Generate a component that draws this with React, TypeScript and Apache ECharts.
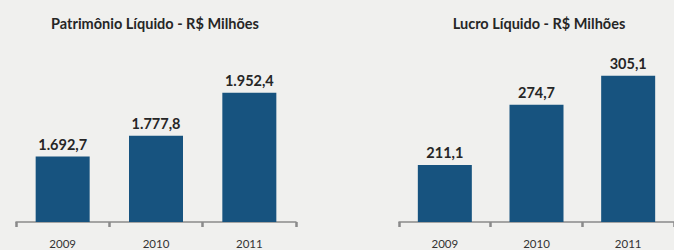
import React, { useEffect, useRef } from "react";
import * as echarts from "echarts";

const years = ["2009", "2010", "2011"];
const patrimonio = [1692.7, 1777.8, 1952.4];
const lucro = [211.1, 274.7, 305.1];
const titles = ["Patrimônio Líquido - R$ Milhões", "Lucro Líquido - R$ Milhões"];

const fmt = (v: number) => {
  const [i, d] = v.toFixed(1).split(".");
  const ii = i.replace(/\B(?=(\d{3})+(?!\d))/g, ".");
  return `${ii},${d}`;
};

const BAR = "#17537f";
const AXIS = "#8a8a8a";
const FONT = "Lato, 'Open Sans', sans-serif";

export default function App() {
  const ref = useRef<HTMLDivElement>(null);
  useEffect(() => {
    document.body.style.margin = "0";
    const chart = echarts.init(ref.current!, null, { renderer: "svg" });
    const xAxisBase = (gridIndex: number) => ({
      type: "category" as const,
      gridIndex,
      data: years,
      axisLine: { show: true, lineStyle: { color: AXIS, width: 1.5 } },
      axisTick: { show: true, alignWithLabel: false, length: 5, lineStyle: { color: AXIS, width: 2.5 } },
      axisLabel: { color: "#333333", fontSize: 11.5, fontFamily: FONT, margin: 15 },
    });
    const yAxisBase = (gridIndex: number, min: number, max: number) => ({
      type: "value" as const,
      gridIndex,
      min,
      max,
      show: false,
      splitLine: { show: false },
    });
    const label = {
      show: true,
      position: "top" as const,
      distance: 5,
      color: "#262626",
      fontSize: 14.5,
      fontWeight: "bold" as const,
      fontFamily: FONT,
      formatter: (p: any) => fmt(p.value),
    };
    chart.setOption({
      animation: false,
      backgroundColor: "#f0f0ee",
      grid: [
        { left: 16, width: 280, top: 20, bottom: 28 },
        { left: 399, width: 277, top: 20, bottom: 28 },
      ],
      xAxis: [xAxisBase(0), xAxisBase(1)],
      yAxis: [yAxisBase(0, 1426, 2249), yAxisBase(1, 151, 364)],
      series: [
        { type: "bar", xAxisIndex: 0, yAxisIndex: 0, data: patrimonio, barWidth: 54, itemStyle: { color: BAR }, label },
        { type: "bar", xAxisIndex: 1, yAxisIndex: 1, data: lucro, barWidth: 54, itemStyle: { color: BAR }, label },
      ],
      graphic: [
        {
          type: "text",
          x: 155,
          y: 23,
          style: { text: titles[0], fill: "#262626", font: `bold 14.5px ${FONT}`, textAlign: "center", textVerticalAlign: "middle" },
        },
        {
          type: "text",
          x: 539,
          y: 23,
          style: { text: titles[1], fill: "#262626", font: `bold 14.5px ${FONT}`, textAlign: "center", textVerticalAlign: "middle" },
        },
      ],
    });
    return () => chart.dispose();
  }, []);
  return <div ref={ref} style={{ position: "fixed", left: 0, top: 0, width: 674, height: 250 }} />;
}
